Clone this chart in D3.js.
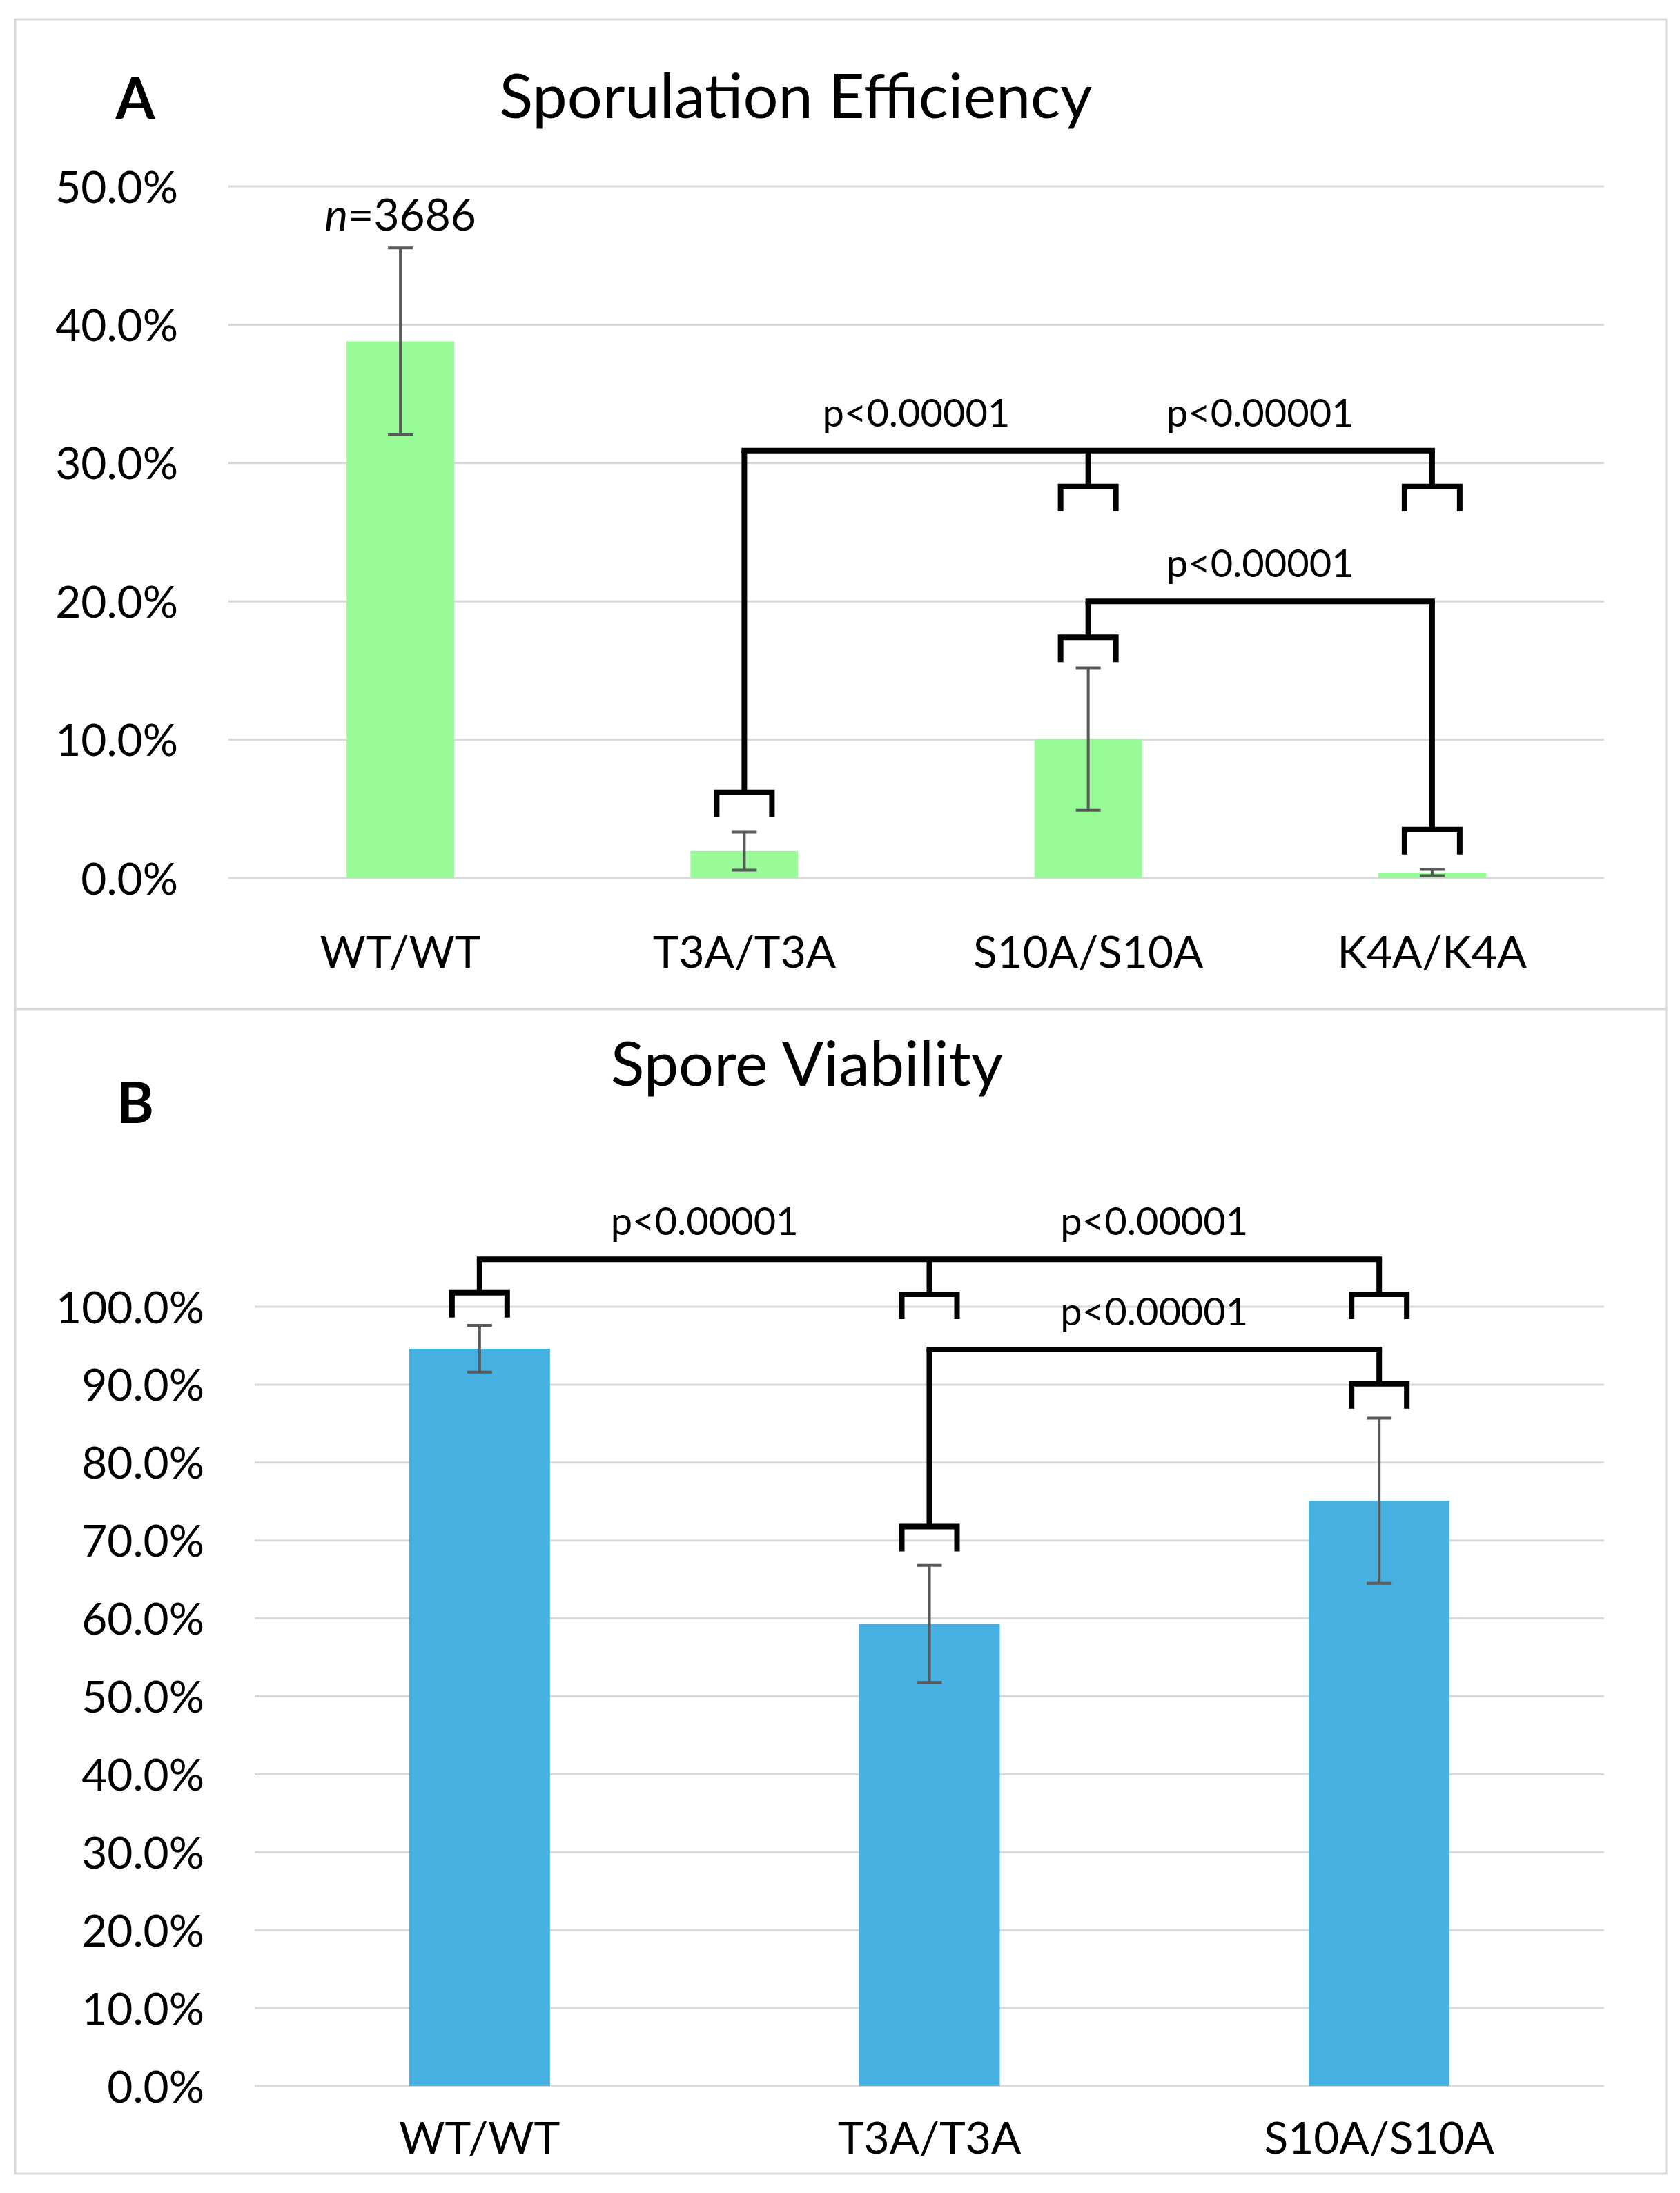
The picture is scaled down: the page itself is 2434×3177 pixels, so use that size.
<!DOCTYPE html>
<html>
<head>
<meta charset="utf-8">
<script src="https://cdn.jsdelivr.net/npm/d3@7/dist/d3.min.js"></script>
<style>
  body { margin: 0; background: #fff; }
  svg text { font-family: Lato, "Open Sans", sans-serif; fill: #000; }
</style>
</head>
<body>
<div id="chart"></div>
<script>
// Panel A: sporulation efficiency
const sporCategories = ['WT/WT', 'T3A/T3A', 'S10A/S10A', 'K4A/K4A'];
const sporValues = [0.388, 0.0195, 0.1005, 0.004];
const sporErrors = [0.0675, 0.0137, 0.0515, 0.0022];
const sporTicks = [0, 0.1, 0.2, 0.3, 0.4, 0.5];
const sporBrackets = [
  { level: 0.309, cats: ['T3A/T3A', 'S10A/S10A', 'K4A/K4A'], caps: [0.062, 0.283, 0.283],
    labels: [['T3A/T3A', 'S10A/S10A'], ['S10A/S10A', 'K4A/K4A']] },
  { level: 0.200, cats: ['S10A/S10A', 'K4A/K4A'], caps: [0.174, 0.035],
    labels: [['S10A/S10A', 'K4A/K4A']] }
];

// Panel B: spore viability
const viaCategories = ['WT/WT', 'T3A/T3A', 'S10A/S10A'];
const viaValues = [0.946, 0.593, 0.751];
const viaErrors = [0.030, 0.075, 0.106];
const viaTicks = [0, 0.1, 0.2, 0.3, 0.4, 0.5, 0.6, 0.7, 0.8, 0.9, 1.0];
const viaBrackets = [
  { level: 1.061, cats: ['WT/WT', 'T3A/T3A', 'S10A/S10A'], caps: [1.018, 1.016, 1.016],
    labels: [['WT/WT', 'T3A/T3A'], ['T3A/T3A', 'S10A/S10A']] },
  { level: 0.945, cats: ['T3A/T3A', 'S10A/S10A'], caps: [0.718, 0.901],
    labels: [['T3A/T3A', 'S10A/S10A']] }
];

const pText = 'p<0.00001';

const W = 2434, H = 3177;
const svg = d3.select('#chart').append('svg')
  .attr('width', W).attr('height', H)
  .attr('viewBox', `0 0 ${W} ${H}`);

// panel frames
svg.append('rect').attr('x', 22).attr('y', 28).attr('width', 2392).attr('height', 1434)
  .attr('fill', '#fff').attr('stroke', '#d9d9d9').attr('stroke-width', 3);
svg.append('rect').attr('x', 22).attr('y', 1462).attr('width', 2392).attr('height', 1687)
  .attr('fill', '#fff').attr('stroke', '#d9d9d9').attr('stroke-width', 3);

function drawPanel(opt) {
  const g = svg.append('g');

  const x = d3.scaleBand()
    .domain(opt.categories)
    .range([opt.left, opt.right])
    .paddingInner(0.687)
    .paddingOuter(0.3435);
  const cx = c => x(c) + x.bandwidth() / 2;

  const y = d3.scaleLinear().domain(opt.domain).range([opt.bottom, opt.top]);

  // gridlines
  g.append('g').selectAll('line').data(opt.ticks).join('line')
    .attr('x1', opt.left).attr('x2', opt.right)
    .attr('y1', d => y(d)).attr('y2', d => y(d))
    .attr('stroke', '#d9d9d9').attr('stroke-width', 3);

  // y axis labels
  const yAxis = d3.axisLeft(y).tickValues(opt.ticks).tickFormat(d3.format('.1%'))
    .tickSize(0).tickPadding(0);
  const ya = g.append('g').attr('transform', `translate(${opt.left - 73},0)`).call(yAxis);
  ya.select('.domain').remove();
  ya.selectAll('text').style('font-size', '64px').attr('fill', '#000').attr('dy', '0.36em');

  // bars
  g.append('g').selectAll('rect').data(opt.values).join('rect')
    .attr('x', (d, i) => x(opt.categories[i]))
    .attr('width', x.bandwidth())
    .attr('y', d => y(d))
    .attr('height', d => y(0) - y(d))
    .attr('fill', opt.color);

  // error bars
  const eb = g.append('g').attr('stroke', '#595959').attr('stroke-width', 4).attr('fill', 'none');
  opt.values.forEach((v, i) => {
    const c = cx(opt.categories[i]);
    const hi = y(v + opt.errors[i]), lo = y(v - opt.errors[i]);
    eb.append('path').attr('d', `M${c},${hi}V${lo}M${c - 18},${hi}H${c + 18}M${c - 18},${lo}H${c + 18}`);
  });

  // x axis labels
  const xAxis = d3.axisBottom(x).tickSize(0).tickPadding(0);
  const xa = g.append('g').attr('transform', `translate(0,${opt.xLabelY})`).call(xAxis);
  xa.select('.domain').remove();
  xa.selectAll('text').style('font-size', '64px').attr('fill', '#000').attr('dy', 0);

  // significance brackets
  const bg = g.append('g').attr('stroke', '#000').attr('stroke-width', 8)
    .attr('fill', 'none').attr('stroke-linejoin', 'miter');
  opt.brackets.forEach(b => {
    const ly = y(b.level);
    const xs = b.cats.map(cx);
    bg.append('path').attr('d', `M${d3.min(xs) - 4},${ly}H${d3.max(xs) + 4}`);
    b.cats.forEach((c, i) => {
      const px = cx(c), top = y(b.caps[i]);
      bg.append('path').attr('d', `M${px},${ly}V${top}`);
      bg.append('path').attr('d', `M${px - 40},${top + 36}V${top}H${px + 40}V${top + 36}`);
    });
    b.labels.forEach(pair => {
      g.append('text')
        .attr('x', (cx(pair[0]) + cx(pair[1])) / 2)
        .attr('y', ly - 35)
        .attr('text-anchor', 'middle')
        .style('font-size', '56px')
        .text(pText);
    });
  });

  // title and panel letter
  g.append('text').attr('x', opt.titleX).attr('y', opt.titleY)
    .attr('text-anchor', 'middle').style('font-size', '90px').text(opt.title);
  g.append('text').attr('x', 196).attr('y', opt.letterY)
    .attr('text-anchor', 'middle').style('font-size', '82px').style('font-weight', 700)
    .text(opt.letter);

  return { x, y, cx, g };
}

const A = drawPanel({
  categories: sporCategories, values: sporValues, errors: sporErrors,
  ticks: sporTicks, domain: [0, 0.5], brackets: sporBrackets,
  left: 331, right: 2324, top: 270, bottom: 1272, xLabelY: 1402,
  color: '#98fb98', title: 'Sporulation Efficiency', titleX: 1153, titleY: 171,
  letter: 'A', letterY: 172
});

// sample size annotation above WT bar
const nLabel = A.g.append('text')
  .attr('x', A.cx('WT/WT')).attr('y', 334)
  .attr('text-anchor', 'middle').style('font-size', '64px');
nLabel.append('tspan').style('font-style', 'italic').text('n');
nLabel.append('tspan').text('=3686');

drawPanel({
  categories: viaCategories, values: viaValues, errors: viaErrors,
  ticks: viaTicks, domain: [0, 1], brackets: viaBrackets,
  left: 369, right: 2324, top: 1893, bottom: 3022, xLabelY: 3120,
  color: '#46b0e0', title: 'Spore Viability', titleX: 1169, titleY: 1573,
  letter: 'B', letterY: 1627
});
</script>
</body>
</html>
